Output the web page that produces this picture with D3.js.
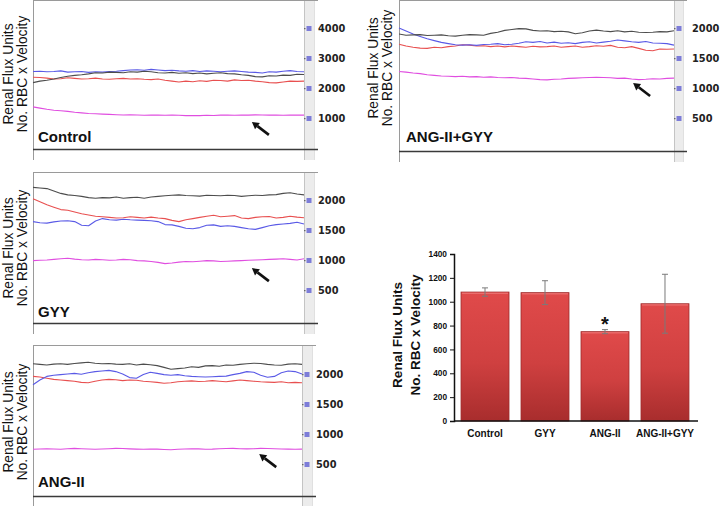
<!DOCTYPE html>
<html>
<head>
<meta charset="utf-8">
<script src="https://cdn.jsdelivr.net/npm/d3@7/dist/d3.min.js"></script>
<style>
  html, body { margin: 0; padding: 0; background: #fff; }
  svg { display: block; }
</style>
</head>
<body>
<svg id="chart" width="720" height="506"></svg>
<script>
// ---------------- DATA ----------------
const tracePanels = ["Control", "GYY", "ANG-II", "ANG-II+GYY"];
const controlTicks = [1000, 2000, 3000, 4000];
const otherTicks = [500, 1000, 1500, 2000];

// Control traces
const controlBlack = [2180,2230,2260,2300,2350,2390,2420,2440,2470,2510,2500,2530,2520,2510,2540,2530,2560,2540,2510,2500,2520,2490,2510,2480,2500,2470,2490,2510,2480,2470,2440,2420,2380,2370,2410,2400,2430,2420,2460,2450];
const controlBlue = [2550,2560,2540,2550,2570,2530,2540,2550,2520,2540,2530,2550,2560,2580,2600,2610,2590,2620,2600,2580,2590,2570,2560,2580,2550,2570,2560,2540,2560,2570,2550,2530,2520,2500,2540,2530,2560,2580,2550,2540];
const controlRed = [2360,2350,2330,2300,2310,2340,2320,2300,2310,2330,2300,2290,2310,2320,2300,2310,2290,2280,2300,2260,2230,2200,2230,2210,2240,2220,2260,2250,2230,2270,2250,2260,2230,2210,2180,2170,2200,2230,2220,2230];
const controlMagenta = [1370,1330,1290,1260,1240,1220,1190,1170,1150,1140,1130,1120,1110,1100,1110,1100,1090,1100,1095,1090,1100,1090,1080,1085,1080,1090,1085,1095,1100,1090,1100,1095,1105,1100,1095,1100,1090,1095,1100,1095];

// GYY traces
const gyyBlack = [2210,2200,2190,2150,2110,2085,2075,2060,2040,2030,2040,2035,2050,2030,2040,2045,2030,2050,2060,2070,2080,2085,2075,2070,2065,2080,2075,2070,2080,2075,2060,2070,2080,2075,2085,2090,2110,2120,2100,2085];
const gyyRed = [2020,1970,1920,1880,1840,1830,1800,1770,1750,1730,1720,1710,1700,1705,1720,1710,1700,1715,1700,1690,1660,1640,1670,1690,1710,1730,1745,1720,1730,1740,1700,1690,1710,1720,1725,1700,1710,1730,1715,1705];
const gyyBlue = [1640,1620,1615,1635,1650,1655,1640,1580,1570,1650,1690,1670,1665,1680,1670,1665,1660,1655,1640,1590,1585,1560,1530,1520,1540,1580,1585,1560,1570,1560,1540,1520,1510,1540,1570,1590,1600,1610,1630,1600];
const gyyMagenta = [990,995,1000,1010,1020,1030,1015,1005,1000,1010,1005,995,1000,1010,1005,990,985,975,960,940,950,965,975,970,980,990,985,975,980,985,990,995,1000,1005,1010,1015,1020,1010,1000,1020];

// ANG-II traces
const angBlack = [2170,2160,2150,2165,2170,2160,2175,2185,2195,2180,2170,2175,2165,2160,2170,2150,2165,2155,2140,2110,2080,2090,2100,2120,2110,2135,2140,2130,2150,2145,2160,2170,2180,2175,2160,2150,2145,2165,2170,2160];
const angBlue = [1820,1900,1960,1980,1990,2000,2010,1995,2020,2040,2050,2060,2040,2000,1940,1930,1990,2030,2010,1990,1980,1990,1970,1960,1955,1950,1955,1960,1965,1990,2010,2040,2030,1980,1945,1960,2020,2050,2040,2000];
const angRed = [1960,1950,1930,1910,1900,1890,1880,1860,1855,1880,1900,1910,1905,1890,1900,1895,1880,1870,1860,1845,1855,1870,1880,1885,1875,1880,1890,1880,1870,1885,1900,1890,1880,1870,1865,1860,1870,1855,1860,1855];
const angMagenta = [745,750,755,750,745,755,760,755,750,745,750,755,760,758,752,748,745,750,748,742,738,745,750,755,752,745,748,755,758,760,755,752,755,760,758,755,750,748,745,748];

// ANG-II+GYY traces
const angGyyBlack = [1900,1880,1885,1890,1875,1880,1885,1870,1865,1880,1890,1885,1880,1910,1930,1960,1975,1990,1985,1960,1950,1955,1940,1945,1935,1905,1920,1950,1965,1950,1940,1955,1935,1945,1930,1925,1930,1940,1935,1955];
const angGyyBlue = [2000,1950,1900,1860,1820,1790,1760,1740,1720,1715,1720,1710,1725,1730,1740,1720,1730,1745,1770,1760,1775,1750,1765,1745,1755,1740,1760,1770,1750,1765,1780,1800,1785,1770,1760,1775,1750,1745,1740,1715];
const angGyyRed = [1730,1700,1680,1665,1660,1680,1670,1690,1700,1720,1715,1700,1705,1690,1700,1685,1700,1690,1680,1695,1685,1690,1700,1680,1690,1700,1680,1690,1705,1695,1710,1680,1670,1690,1660,1630,1620,1650,1645,1650];
const angGyyMagenta = [1275,1265,1250,1240,1220,1210,1200,1195,1190,1195,1185,1190,1180,1185,1175,1170,1175,1165,1160,1150,1140,1135,1145,1150,1160,1165,1170,1175,1180,1175,1170,1160,1165,1150,1140,1145,1155,1150,1160,1165];

// Bar chart summary
const barCategories = ["Control", "GYY", "ANG-II", "ANG-II+GYY"];
const barMeans = [1081, 1076, 749, 983];
const barErrors = [35, 100, 17, 247];
const barTicks = [0, 200, 400, 600, 800, 1000, 1200, 1400];
const significant = [false, false, true, false];

// ---------------- LAYOUT / STYLE ----------------
const svg = d3.select("#chart");
const FONT = "'Liberation Sans', Arial, sans-serif";
const traceColors = { black: "#4d4d4d", blue: "#5a5ae6", red: "#e85050", magenta: "#e04ee0" };

const traceData = {
  "Control":    { black: controlBlack, blue: controlBlue, red: controlRed, magenta: controlMagenta, ticks: controlTicks, yMax: 4000 },
  "GYY":        { black: gyyBlack, blue: gyyBlue, red: gyyRed, magenta: gyyMagenta, ticks: otherTicks, yMax: 2000 },
  "ANG-II":     { black: angBlack, blue: angBlue, red: angRed, magenta: angMagenta, ticks: otherTicks, yMax: 2000 },
  "ANG-II+GYY": { black: angGyyBlack, blue: angGyyBlue, red: angGyyRed, magenta: angGyyMagenta, ticks: otherTicks, yMax: 2000 }
};

// pixel layout of each trace panel
const panelLayout = {
  "Control":    { x0: 33,  x1: 304, stripR: 315, top: 0,   bottom: 149, zeroY: 148, topY: 28,  labX: 318, titleB1: 13,  titleB2: 26.5, titleCy: 74,  nameX: 38,  nameY: 142, arrowIdx: 31.5, arrowVal: 870 },
  "GYY":        { x0: 33,  x1: 304, stripR: 315, top: 172, bottom: 323, zeroY: 320, topY: 200, labX: 318, titleB1: 13,  titleB2: 26.5, titleCy: 248, nameX: 38,  nameY: 317, arrowIdx: 31.5, arrowVal: 865 },
  "ANG-II":     { x0: 33,  x1: 302, stripR: 313, top: 345, bottom: 496, zeroY: 494, topY: 374, labX: 316, titleB1: 13,  titleB2: 26.5, titleCy: 422, nameX: 38,  nameY: 487, arrowIdx: 32.8, arrowVal: 665 },
  "ANG-II+GYY": { x0: 399, x1: 674, stripR: 684, top: 0,   bottom: 151, zeroY: 148, topY: 28,  labX: 692, titleB1: 378, titleB2: 391.5, titleCy: 68, nameX: 406, nameY: 142, arrowIdx: 33.2, arrowVal: 1083 }
};

tracePanels.forEach(name => {
  const d = traceData[name];
  const L = panelLayout[name];
  const n = d.black.length;
  const g = svg.append("g");

  const x = d3.scaleLinear().domain([0, n - 1]).range([L.x0, L.x1]);
  const y = d3.scaleLinear().domain([0, d.yMax]).range([L.zeroY, L.topY]);

  // gray strip on the right
  g.append("rect").attr("x", L.x1).attr("y", L.top)
    .attr("width", L.stripR - L.x1).attr("height", L.bottom + 11 - L.top)
    .attr("fill", "#ececec");
  g.append("line").attr("x1", L.x1 + 0.5).attr("x2", L.x1 + 0.5)
    .attr("y1", L.top).attr("y2", L.bottom + 11).attr("stroke", "#c4c4c4");
  g.append("line").attr("x1", L.stripR - 0.5).attr("x2", L.stripR - 0.5)
    .attr("y1", L.top).attr("y2", L.bottom + 11).attr("stroke", "#e0e0e0");

  // frame
  g.append("line").attr("x1", L.x0).attr("x2", L.stripR + 3)
    .attr("y1", L.top + 0.5).attr("y2", L.top + 0.5).attr("stroke", "#9a9a9a");
  g.append("line").attr("x1", L.x0 + 0.5).attr("x2", L.x0 + 0.5)
    .attr("y1", L.top).attr("y2", L.bottom + 11).attr("stroke", "#9a9a9a");
  g.append("line").attr("x1", L.x0).attr("x2", L.stripR + 3)
    .attr("y1", L.bottom + 0.5).attr("y2", L.bottom + 0.5).attr("stroke", "#3a3a3a").attr("stroke-width", 1.5);

  // right axis: square markers + labels
  const axis = d3.axisRight(y).tickValues(d.ticks).tickSize(0).tickPadding(0).tickFormat(d3.format("d"));
  const ag = g.append("g").attr("transform", `translate(${L.labX},0)`).call(axis);
  ag.select(".domain").remove();
  ag.selectAll(".tick text")
    .attr("x", 0)
    .attr("font-family", "'DejaVu Sans', Verdana, sans-serif")
    .attr("font-weight", "bold").attr("font-size", 9.8).attr("fill", "#222");
  ag.selectAll(".tick").append("rect")
    .attr("x", L.x1 + 2.5 - L.labX).attr("y", -2.5).attr("width", 5).attr("height", 5)
    .attr("fill", "#7c7cd8");
  ag.selectAll(".tick").append("rect")
    .attr("x", L.x1 - L.labX).attr("y", -0.5).attr("width", 1.5).attr("height", 1.2)
    .attr("fill", "#666");

  // traces
  const line = d3.line().x((v, i) => x(i)).y(v => y(v));
  ["magenta", "red", "blue", "black"].forEach(key => {
    g.append("path").datum(d[key])
      .attr("d", line).attr("fill", "none")
      .attr("stroke", traceColors[key]).attr("stroke-width", 1.1)
      .attr("stroke-linejoin", "round");
  });

  // arrow pointing to magenta trace
  const hx = x(L.arrowIdx), hy = y(L.arrowVal);
  const tx = hx + 17, ty = hy + 13;
  const ang = Math.atan2(hy - ty, hx - tx);
  const hl = 7, hw = 4;
  const bx = hx - hl * Math.cos(ang), by = hy - hl * Math.sin(ang);
  g.append("line").attr("x1", tx).attr("y1", ty).attr("x2", bx).attr("y2", by)
    .attr("stroke", "#111").attr("stroke-width", 2.6);
  g.append("path")
    .attr("d", `M${hx},${hy} L${bx + hw * Math.sin(ang)},${by - hw * Math.cos(ang)} L${bx - hw * Math.sin(ang)},${by + hw * Math.cos(ang)} Z`)
    .attr("fill", "#111");

  // panel name
  g.append("text").attr("x", L.nameX).attr("y", L.nameY)
    .attr("font-family", FONT).attr("font-weight", "bold").attr("font-size", 15)
    .attr("fill", "#111").text(name);

  // y title (two lines, rotated)
  [["Renal Flux Units", L.titleB1], ["No. RBC x Velocity", L.titleB2]].forEach(([t, bx2]) => {
    g.append("text")
      .attr("transform", `translate(${bx2},${L.titleCy}) rotate(-90)`)
      .attr("text-anchor", "middle")
      .attr("font-family", FONT).attr("font-size", 13.8).attr("fill", "#111")
      .text(t);
  });
});

// ---------------- BAR CHART ----------------
const bx = d3.scaleBand().domain(barCategories).range([454, 696]).paddingInner(0.2).paddingOuter(0.117);
const by = d3.scaleLinear().domain([0, 1400]).range([421, 254]);
const bg = svg.append("g");

const defs = svg.append("defs");
const grad = defs.append("linearGradient").attr("id", "barGrad")
  .attr("x1", 0).attr("y1", 0).attr("x2", 0).attr("y2", 1);
grad.append("stop").attr("offset", "0%").attr("stop-color", "#e04a4a");
grad.append("stop").attr("offset", "55%").attr("stop-color", "#cf4040");
grad.append("stop").attr("offset", "100%").attr("stop-color", "#a82d2d");

bg.selectAll("rect.bar").data(barMeans).join("rect")
  .attr("class", "bar")
  .attr("x", (v, i) => bx(barCategories[i]))
  .attr("y", v => by(v))
  .attr("width", bx.bandwidth())
  .attr("height", v => by(0) - by(v))
  .attr("fill", "url(#barGrad)")
  .attr("stroke", "#9e2b2b").attr("stroke-width", 0.8);

// top highlight
bg.selectAll("line.hl").data(barMeans).join("line")
  .attr("class", "hl")
  .attr("x1", (v, i) => bx(barCategories[i]) + 1)
  .attr("x2", (v, i) => bx(barCategories[i]) + bx.bandwidth() - 1)
  .attr("y1", v => by(v) + 1.2).attr("y2", v => by(v) + 1.2)
  .attr("stroke", "#ee7a7a").attr("stroke-width", 1);

// error bars
barMeans.forEach((m, i) => {
  const cx = bx(barCategories[i]) + bx.bandwidth() / 2;
  const e = barErrors[i];
  bg.append("line").attr("x1", cx).attr("x2", cx).attr("y1", by(m + e)).attr("y2", by(m - e))
    .attr("stroke", "#7a7a7a").attr("stroke-width", 1);
  [m + e, m - e].forEach(v => {
    bg.append("line").attr("x1", cx - 3).attr("x2", cx + 3).attr("y1", by(v)).attr("y2", by(v))
      .attr("stroke", "#7a7a7a").attr("stroke-width", 1);
  });
  if (significant[i]) {
    bg.append("text").attr("x", cx).attr("y", by(m + e) + 1.5)
      .attr("text-anchor", "middle").attr("font-family", FONT).attr("font-weight", "bold")
      .attr("font-size", 20).attr("fill", "#111").text("*");
  }
});

// axes
const yAx = bg.append("g").attr("transform", "translate(454,0)")
  .call(d3.axisLeft(by).tickValues(barTicks).tickSize(4).tickPadding(3).tickFormat(d3.format("d")));
yAx.select(".domain").attr("stroke", "#111").attr("stroke-width", 1.5);
yAx.selectAll(".tick line").attr("stroke", "#111");
yAx.selectAll(".tick text").attr("font-family", FONT).attr("font-weight", "bold")
  .attr("font-size", 8.3).attr("fill", "#111");

const xAx = bg.append("g").attr("transform", "translate(0,421)")
  .call(d3.axisBottom(bx).tickSize(0).tickPadding(9));
xAx.select(".domain").attr("d", "M454,0H698").attr("stroke", "#111").attr("stroke-width", 1.5);
xAx.selectAll(".tick text").attr("font-family", FONT).attr("font-weight", "bold")
  .attr("font-size", 10).attr("fill", "#111");

// bar chart y title
[["Renal Flux Units", 402], ["No. RBC x Velocity", 420]].forEach(([t, bxx]) => {
  bg.append("text")
    .attr("transform", `translate(${bxx},335) rotate(-90)`)
    .attr("text-anchor", "middle")
    .attr("font-family", FONT).attr("font-weight", "bold").attr("font-size", 13.5).attr("fill", "#111")
    .text(t);
});
</script>
</body>
</html>
